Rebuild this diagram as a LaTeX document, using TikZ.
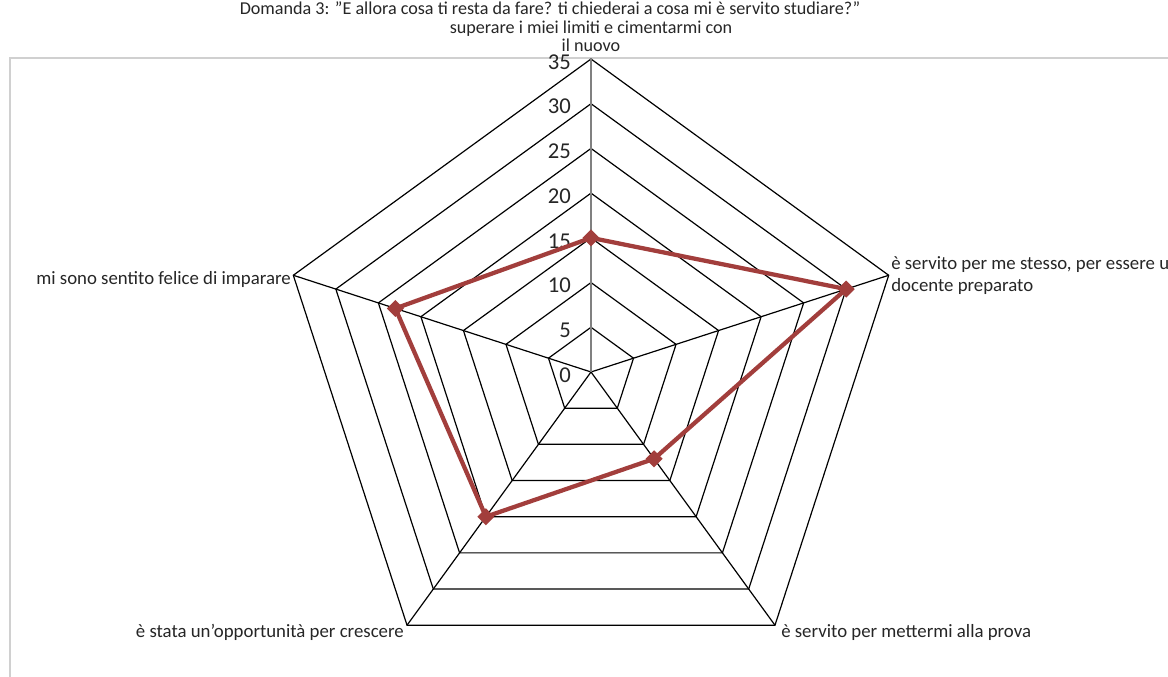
\documentclass[tikz,border=0pt]{standalone}
\usepackage{fontspec}
\setmainfont{Carlito}
\usetikzlibrary{shapes.geometric}
\definecolor{dred}{HTML}{A23E3C}
\definecolor{frame}{HTML}{D0D0D0}
\tikzset{
  ring/.style={black, line width=0.9pt, line join=miter},
  spoke/.style={black, line width=0.9pt},
  valaxis/.style={gray, line width=2.2pt},
  series/.style={dred, line width=3.2pt, line join=round},
  mk/.style={diamond, fill=dred, inner sep=0pt, minimum size=13pt},
  tick/.style={font=\fontsize{17}{18}\selectfont, text=black!85, inner sep=0pt, anchor=east},
  cat/.style={font=\fontsize{14.1}{16.5}\selectfont, text=black!85, inner sep=0pt},
  ttl/.style={font=\fontsize{13.6}{15}\selectfont, text=black!85, inner sep=0pt}
}
\begin{document}
\begin{tikzpicture}[x=0.75pt,y=-0.75pt]
\useasboundingbox (0,0) rectangle (1168,677);
\fill[white] (0,0) rectangle (1168,677);
\draw[frame, line width=0.9pt] (10,677) -- (10,58) -- (1168,58);
% title and top category
\node[ttl] (title) at (550,8.5) {Domanda 3: "E allora cosa ti resta da fare? ti chiederai a cosa mi è servito studiare?"};
\node[cat, font=\fontsize{13.6}{13.5}\selectfont, align=center, anchor=south] (cA) at (591,51.5) {superare i miei limiti e cimentarmi con\\il nuovo};
% other categories
\node[cat, align=left, anchor=north west] (cB) at (891,256) {è servito per me stesso, per essere un\\docente preparato};
\node[cat, anchor=west] (cC) at (781,632) {è servito per mettermi alla prova};
\node[cat, anchor=east] (cD) at (404,632) {è stata un'opportunità per crescere};
\node[cat, anchor=east] (cE) at (291,279) {mi sono sentito felice di imparare};
\begin{scope}[shift={(591,372)}, x=0.75pt, y=0.75pt]
  \coordinate (o) at (0,0);
  \foreach \k in {1,...,7}{
    \draw[ring] (90:44.714*\k) -- (18:44.714*\k) -- (-54:44.714*\k) -- (-126:44.714*\k) -- (162:44.714*\k) -- cycle;
  }
  \foreach \a in {18,-54,-126,162}{
    \draw[spoke] (o) -- (\a:313);
  }
  \draw[valaxis] (o) -- (90:313);
  \foreach \k/\v in {0/0,1/5,2/10,3/15,4/20,5/25,6/30,7/35}{
    \node[tick] (t\v) at (-20,44.714*\k-3) {\v};
  }
  \coordinate (p1) at (90:15*8.943);
  \coordinate (p2) at (18:30*8.943);
  \coordinate (p3) at (-54:12*8.943);
  \coordinate (p4) at (-126:20*8.943);
  \coordinate (p5) at (162:23*8.943);
  \draw[series] (p1) -- (p2) -- (p3) -- (p4) -- (p5) -- cycle;
  \foreach \p in {p1,p2,p3,p4,p5}{
    \node[mk] (m\p) at (\p) {};
  }
\end{scope}
\end{tikzpicture}
\end{document}
